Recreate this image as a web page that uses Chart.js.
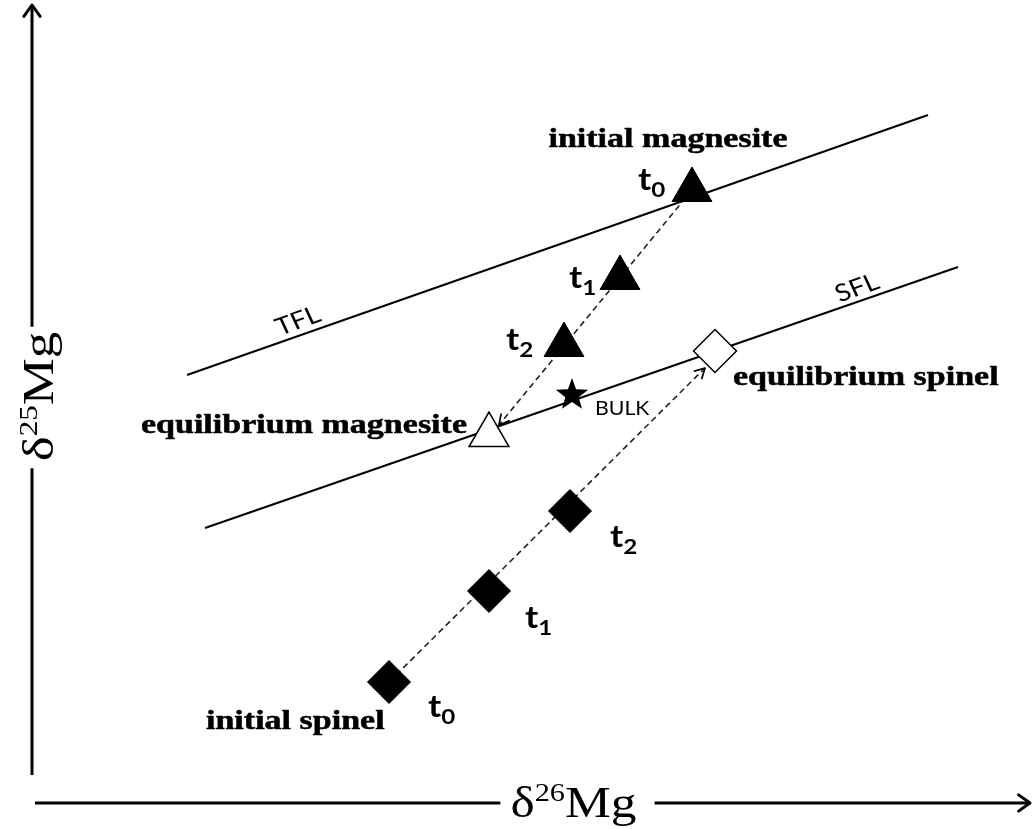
<!DOCTYPE html>
<html>
<head>
<meta charset="utf-8">
<script src="https://cdn.jsdelivr.net/npm/chart.js@4.4.1/dist/chart.umd.min.js"></script>
<style>
  html, body { margin: 0; padding: 0; background: #fff; }
  #wrap { width: 1032px; height: 829px; position: relative; }
</style>
</head>
<body>
<div id="wrap"><canvas id="c"></canvas></div>
<script>
// Schematic δ26Mg vs δ25Mg (arbitrary per-mil units, origin at the axis corner)

// Fractionation lines
const tflLine = [{ x: 1.54, y: 4.25 }, { x: 8.95, y: 6.85 }];
const sflLine = [{ x: 1.72, y: 2.72 }, { x: 9.25, y: 5.33 }];

// Magnesite at t0, t1, t2
const magnesiteX = [6.59, 5.87, 5.31];
const magnesiteY = [6.10, 5.22, 4.55];
const eqMagnesite = [{ x: 4.56, y: 3.65 }];

// Spinel at t0, t1, t2
const spinelX = [3.56, 4.56, 5.37];
const spinelY = [1.18, 2.09, 2.89];
const eqSpinel = [{ x: 6.82, y: 4.49 }];

// Bulk composition
const bulk = [{ x: 5.39, y: 4.05 }];

// Exchange paths: start -> arrow tip
const magnesitePath = [{ x: 6.59, y: 6.10 }, { x: 4.66, y: 3.75 }];
const spinelPath = [{ x: 3.56, y: 1.18 }, { x: 6.72, y: 4.32 }];

// Time steps
const stepLabels = ['0', '1', '2'];

const SERIF = '"Liberation Serif", "Times New Roman", serif';
const SANS = 'Lato, "Open Sans", "Liberation Sans", sans-serif';
const STRETCH = 1.26;

function makeStar(R, r) {
  const s = Math.ceil(2 * R + 2);
  const c = document.createElement('canvas');
  c.width = s; c.height = s;
  const g = c.getContext('2d');
  g.translate(s / 2, s / 2);
  g.beginPath();
  for (let k = 0; k < 10; k++) {
    const a = -Math.PI / 2 + k * Math.PI / 5;
    const rr = k % 2 ? r : R;
    g.lineTo(rr * Math.cos(a), rr * Math.sin(a));
  }
  g.closePath();
  g.fillStyle = '#000';
  g.fill();
  return c;
}

const toPts = (xs, ys) => xs.map((x, i) => ({ x, y: ys[i] }));

// Text annotations, anchored in data units
const serifLabels = [
  { text: 'initial magnesite', x: 6.35, y: 6.53, align: 'center' },
  { text: 'equilibrium magnesite', x: 4.34, y: 3.67, align: 'right' },
  { text: 'equilibrium spinel', x: 7.00, y: 4.15, align: 'left' },
  { text: 'initial spinel', x: 1.73, y: 0.71, align: 'left' }
];
const stepAnchors = {
  magnesite: [{ x: 6.05, y: 6.10 }, { x: 5.36, y: 5.12 }, { x: 4.73, y: 4.50 }],
  spinel: [{ x: 3.95, y: 0.83 }, { x: 4.92, y: 1.72 }, { x: 5.77, y: 2.53 }]
};
const lineNames = [
  { text: 'TFL', x: 2.65, y: 4.79, line: tflLine },
  { text: 'SFL', x: 8.24, y: 5.12, line: sflLine }
];

function px(chart, p) {
  return { x: chart.scales.x.getPixelForValue(p.x), y: chart.scales.y.getPixelForValue(p.y) };
}

function drawStretched(ctx, txt, x, y, font, align, sx, heavy) {
  ctx.save();
  ctx.translate(x, y);
  ctx.scale(sx, 1);
  ctx.font = font;
  ctx.textAlign = align;
  ctx.textBaseline = 'alphabetic';
  ctx.fillStyle = '#000';
  ctx.fillText(txt, 0, 0);
  if (heavy) {
    ctx.strokeStyle = '#000';
    ctx.lineWidth = heavy;
    ctx.lineJoin = 'round';
    ctx.strokeText(txt, 0, 0);
  }
  ctx.restore();
}

function chevron(ctx, tip, dirAngle, len, spread, width) {
  ctx.save();
  ctx.strokeStyle = '#000';
  ctx.lineWidth = width;
  ctx.lineCap = 'round';
  ctx.lineJoin = 'round';
  ctx.beginPath();
  ctx.moveTo(tip.x - len * Math.cos(dirAngle - spread), tip.y - len * Math.sin(dirAngle - spread));
  ctx.lineTo(tip.x, tip.y);
  ctx.lineTo(tip.x - len * Math.cos(dirAngle + spread), tip.y - len * Math.sin(dirAngle + spread));
  ctx.stroke();
  ctx.restore();
}

// Axis title like δ26Mg: segments drawn along the text direction
function axisTitle(ctx, cx, cy, angle, sup, sx) {
  const big = '44px ' + SERIF, small = '26px ' + SERIF;
  ctx.save();
  ctx.font = big; const wd = ctx.measureText('\u03b4').width; const wm = ctx.measureText('Mg').width;
  ctx.font = small; const ws = ctx.measureText(sup).width;
  const total = wd + ws + wm;
  ctx.translate(cx, cy);
  ctx.rotate(angle);
  ctx.scale(sx, 1);
  ctx.fillStyle = '#000';
  ctx.textBaseline = 'alphabetic';
  ctx.textAlign = 'left';
  let x0 = -total / 2;
  ctx.font = big; ctx.fillText('\u03b4', x0, 0); x0 += wd;
  ctx.font = small; ctx.fillText(sup, x0, -16); x0 += ws;
  ctx.font = big; ctx.fillText('Mg', x0, 0);
  ctx.restore();
  return total * sx;
}

const schematic = {
  id: 'schematic',
  afterDatasetsDraw(chart) {
    const ctx = chart.ctx;
    const xs = chart.scales.x, ys = chart.scales.y;

    // Arrow tips on exchange paths
    [magnesitePath, spinelPath].forEach(path => {
      const a = px(chart, path[0]), b = px(chart, path[1]);
      chevron(ctx, b, Math.atan2(b.y - a.y, b.x - a.x), 11, 0.5, 1.7);
    });

    // Axes with titles breaking the lines
    const axisX = xs.getPixelForValue(-0.01);
    const axisY = ys.getPixelForValue(-0.03);
    const yTop = ys.getPixelForValue(7.95), yBot = ys.getPixelForValue(0.25);
    const xLeft = xs.getPixelForValue(0.02), xRight = xs.getPixelForValue(9.97);
    const yMid = ys.getPixelForValue(4.035);
    const xMid = xs.getPixelForValue(5.405);

    const lenY = axisTitle(ctx, 53, yMid, -Math.PI / 2, '25', 1.2);
    const lenX = axisTitle(ctx, xMid, 817, 0, '26', 1.17);

    ctx.save();
    ctx.strokeStyle = '#000';
    ctx.lineWidth = 3;
    ctx.beginPath();
    ctx.moveTo(axisX, yBot); ctx.lineTo(axisX, yMid + lenY / 2 + 7);
    ctx.moveTo(axisX, yMid - lenY / 2 - 5); ctx.lineTo(axisX, yTop);
    ctx.moveTo(xLeft, axisY); ctx.lineTo(xMid - lenX / 2 - 10, axisY);
    ctx.moveTo(xMid + lenX / 2 + 18, axisY); ctx.lineTo(xRight, axisY);
    ctx.stroke();
    ctx.restore();
    chevron(ctx, { x: axisX, y: yTop }, -Math.PI / 2, 14, 0.62, 3);
    chevron(ctx, { x: xRight, y: axisY }, 0, 14, 0.62, 3);

    // Phase labels
    serifLabels.forEach(l => {
      const p = px(chart, l);
      drawStretched(ctx, l.text, p.x, p.y, 'bold 27px ' + SERIF, l.align, STRETCH, 0.5);
    });

    // Time-step labels t0, t1, t2
    Object.values(stepAnchors).forEach(list => {
      list.forEach((a, i) => {
        const p = px(chart, a);
        ctx.save();
        ctx.font = 'bold 31px ' + SANS;
        const wt = ctx.measureText('t').width * 1.15;
        ctx.restore();
        drawStretched(ctx, 't', p.x, p.y, 'bold 31px ' + SANS, 'left', 1.15, 0);
        drawStretched(ctx, stepLabels[i], p.x + wt, p.y + 7, 'bold 21px ' + SANS, 'left', 1.15, 0);
      });
    });

    // Line names set along their lines
    lineNames.forEach(n => {
      const a = px(chart, n.line[0]), b = px(chart, n.line[1]);
      const sx = 1.15;
      const ang = Math.atan2(b.y - a.y, (b.x - a.x) / sx);
      const p = px(chart, n);
      ctx.save();
      ctx.translate(p.x, p.y);
      ctx.scale(sx, 1);
      ctx.rotate(ang);
      ctx.font = '24px ' + SANS;
      ctx.textAlign = 'center';
      ctx.textBaseline = 'middle';
      ctx.fillStyle = '#000';
      ctx.fillText(n.text, 0, 0);
      ctx.restore();
    });

    // Bulk label
    const bp = px(chart, { x: bulk[0].x + 0.23, y: bulk[0].y - 0.20 });
    drawStretched(ctx, 'BULK', bp.x, bp.y, '19px ' + SANS, 'left', 1.12, 0);
  }
};

new Chart(document.getElementById('c'), {
  type: 'scatter',
  data: {
    datasets: [
      { label: 'BULK', data: bulk, pointStyle: makeStar(17, 7), pointRadius: 17, order: 0 },
      { label: 'magnesite', data: toPts(magnesiteX, magnesiteY), pointStyle: 'triangle', pointRadius: 23,
        backgroundColor: '#000', borderColor: '#000', borderWidth: 1, order: 0 },
      { label: 'equilibrium magnesite', data: eqMagnesite, pointStyle: 'triangle', pointRadius: 23,
        backgroundColor: '#fff', borderColor: '#000', borderWidth: 1.5, order: 0 },
      { label: 'spinel', data: toPts(spinelX, spinelY), pointStyle: 'rectRot', pointRadius: 21.5,
        backgroundColor: '#000', borderColor: '#000', borderWidth: 1, order: 0 },
      { label: 'equilibrium spinel', data: eqSpinel, pointStyle: 'rectRot', pointRadius: 21.5,
        backgroundColor: '#fff', borderColor: '#000', borderWidth: 1.5, order: 0 },
      { label: 'magnesite path', data: magnesitePath, showLine: true, pointRadius: 0,
        borderColor: '#222', borderWidth: 1.6, borderDash: [6, 4], order: 1 },
      { label: 'spinel path', data: spinelPath, showLine: true, pointRadius: 0,
        borderColor: '#222', borderWidth: 1.6, borderDash: [6, 4], order: 1 },
      { label: 'TFL', data: tflLine, showLine: true, pointRadius: 0, borderColor: '#000', borderWidth: 2, order: 2 },
      { label: 'SFL', data: sflLine, showLine: true, pointRadius: 0, borderColor: '#000', borderWidth: 2, order: 2 }
    ]
  },
  options: {
    responsive: true,
    maintainAspectRatio: false,
    animation: false,
    events: [],
    layout: { padding: 0, autoPadding: false },
    scales: {
      x: { type: 'linear', min: -0.33, max: 9.99, display: false },
      y: { type: 'linear', min: -0.29, max: 8.00, display: false }
    },
    plugins: { legend: { display: false }, tooltip: { enabled: false } }
  },
  plugins: [schematic]
});
</script>
</body>
</html>
